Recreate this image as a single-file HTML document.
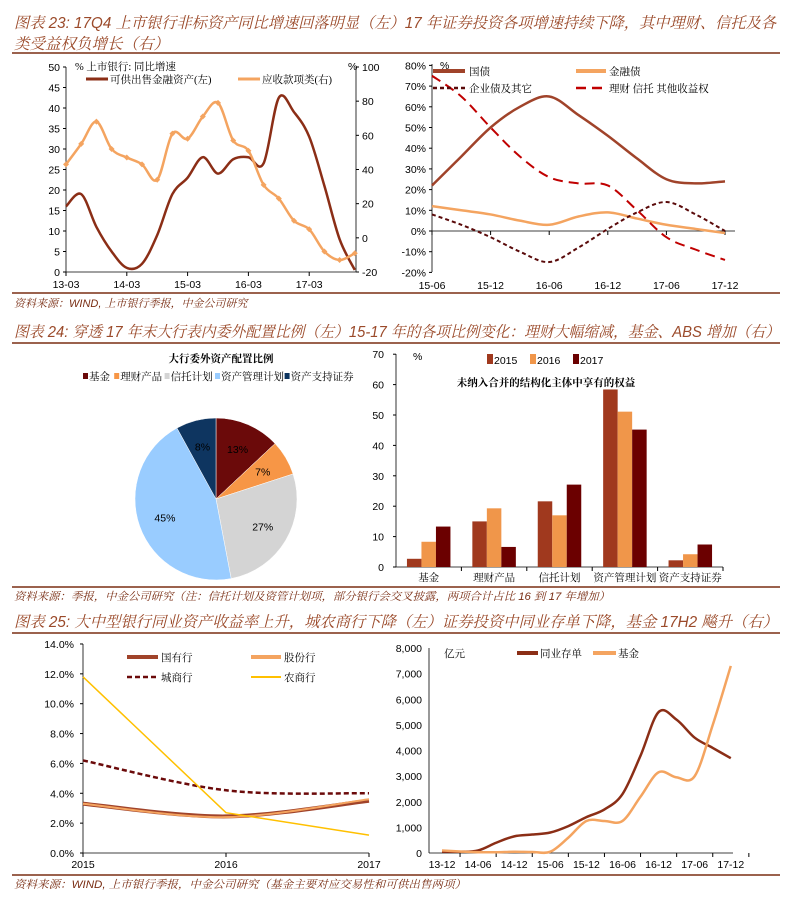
<!DOCTYPE html>
<html><head><meta charset="utf-8">
<style>
html,body{margin:0;padding:0;background:#fff;}
svg{display:block;font-family:"Liberation Sans","Noto Sans CJK SC",sans-serif;}
.ttl{font-size:15.5px;font-style:italic;fill:#9B4A2A;font-family:"Liberation Sans","Noto Serif CJK SC",serif;}
.src{font-size:11px;font-style:italic;fill:#7A2E14;font-family:"Liberation Sans","Noto Serif CJK SC",serif;}
.tk{font-size:10.5px;fill:#000;}
.lg{font-size:10.5px;fill:#000;font-family:"Liberation Serif","Noto Serif CJK SC",serif;}
</style></head>
<body>
<svg id="s" width="791" height="903" viewBox="0 0 791 903" xmlns="http://www.w3.org/2000/svg">
<text class="ttl" x="14" y="28" textLength="762" lengthAdjust="spacingAndGlyphs">图表 23: 17Q4 上市银行非标资产同比增速回落明显（左）17 年证券投资各项增速持续下降，其中理财、信托及各</text>
<text class="ttl" x="14" y="49">类受益权负增长（右）</text>
<line x1="12" y1="53" x2="780" y2="53" stroke="#7A2E14" stroke-width="1.5"/>
<line x1="12" y1="293" x2="780" y2="293" stroke="#7A2E14" stroke-width="1.5"/>
<text class="src" x="14" y="307">资料来源：WIND, 上市银行季报，中金公司研究</text>
<text class="ttl" x="14" y="337" textLength="766" lengthAdjust="spacingAndGlyphs">图表 24: 穿透 17 年末大行表内委外配置比例（左）15-17 年的各项比例变化：理财大幅缩减，基金、ABS 增加（右）</text>
<line x1="12" y1="343" x2="780" y2="343" stroke="#7A2E14" stroke-width="1.5"/>
<line x1="12" y1="587" x2="780" y2="587" stroke="#7A2E14" stroke-width="1.5"/>
<text class="src" x="14" y="600" textLength="596" lengthAdjust="spacingAndGlyphs">资料来源：季报，中金公司研究（注：信托计划及资管计划项，部分银行会交叉披露，两项合计占比 16 到 17 年增加）</text>
<text class="ttl" x="14" y="627" textLength="764" lengthAdjust="spacingAndGlyphs">图表 25: 大中型银行同业资产收益率上升，城农商行下降（左）证券投资中同业存单下降，基金 17H2 飚升（右）</text>
<line x1="12" y1="633" x2="780" y2="633" stroke="#7A2E14" stroke-width="1.5"/>
<line x1="12" y1="875" x2="780" y2="875" stroke="#7A2E14" stroke-width="1.5"/>
<text class="src" x="14" y="888" textLength="452" lengthAdjust="spacingAndGlyphs">资料来源：WIND, 上市银行季报，中金公司研究（基金主要对应交易性和可供出售两项）</text>
<g id="g"></g>
</svg>
<script>
// ---- Chart 23 data ----
const c1Labels = ['13-03','14-03','15-03','16-03','17-03'];
const c1Afs = [16,19,11,5,1,2,9,19,23,28,24,27.5,28,26.5,42.5,39,33,21,8,0.5];
const c1Recv = [43,55,68,52,47,43,34,61,58,71,79,57,51,31,23,10,5,-8,-13,-9];
const c1LeftTicks = [0,5,10,15,20,25,30,35,40,45,50];
const c1RightTicks = [-20,0,20,40,60,80,100];
// ---- Chart 2 data ----
const c2Labels = ['15-06','15-12','16-06','16-12','17-06','17-12'];
const c2Gov = [22,36,50,60,65,56,46,35,25,23,24];
const c2Fin = [12,10,8,5,3,7,9,6,3,1,-1];
const c2Corp = [8,3,-3,-10,-15,-8,1,9,14,8,0];
const c2Wm = [75,65,50,36,26,23,22,10,-3,-9,-14];
const c2Ticks = [-20,-10,0,10,20,30,40,50,60,70,80];
// ---- Pie data ----
const pieNames = ['基金','理财产品','信托计划','资产管理计划','资产支持证券'];
const pieVals = [13,7,27,45,8];
const pieColors = ['#6B0A0A','#F79646','#D4D4D4','#99CCFF','#0E3560'];
// ---- Bar chart data ----
const barCats = ['基金','理财产品','信托计划','资产管理计划','资产支持证券'];
const barYears = ['2015','2016','2017'];
const bar2015 = [2.7,15,21.6,58.4,2.2];
const bar2016 = [8.3,19.3,17,51.1,4.2];
const bar2017 = [13.3,6.6,27.1,45.2,7.4];
const barTicks = [0,10,20,30,40,50,60,70];
// ---- Chart 25 left ----
const c5Labels = ['2015','2016','2017'];
const c5Soe = [3.3,2.45,3.5];
const c5Jsb = [3.3,2.4,3.6];
const c5City = [6.2,4.2,4.0];
const c5Rural = [11.8,2.7,1.2];
const c5Ticks = [0,2,4,6,8,10,12,14];
// ---- Chart 25 right ----
const c6Labels = ['13-12','14-06','14-12','15-06','15-12','16-06','16-12','17-06','17-12'];
const c6Ncd = [50,50,100,400,650,720,800,1050,1400,1700,2300,3800,5500,5200,4500,4100,3700];
const c6Fund = [100,60,30,30,50,40,50,600,1250,1250,1250,2200,3150,2950,3000,5000,7300];
const c6Ticks = [0,1000,2000,3000,4000,5000,6000,7000,8000];

const NS='http://www.w3.org/2000/svg';
const root=document.getElementById('g');
function mk(tag,attrs,parent){const e=document.createElementNS(NS,tag);for(const k in attrs)e.setAttribute(k,attrs[k]);(parent||root).appendChild(e);return e;}
function txt(x,y,s,cls,anchor,parent,extra){const e=mk('text',Object.assign({x:x,y:y,class:cls,'text-anchor':anchor||'start'},extra||{}),parent);e.textContent=s;return e;}
function smooth(pts){let d='M'+pts[0][0]+','+pts[0][1];for(let i=0;i<pts.length-1;i++){const p0=pts[i-1]||pts[i],p1=pts[i],p2=pts[i+1],p3=pts[i+2]||p2;const t=6;d+=' C'+(p1[0]+(p2[0]-p0[0])/t)+','+(p1[1]+(p2[1]-p0[1])/t)+' '+(p2[0]-(p3[0]-p1[0])/t)+','+(p2[1]-(p3[1]-p1[1])/t)+' '+p2[0]+','+p2[1];}return d;}
function fmtK(v){return v.toLocaleString('en-US');}

// ===== Chart 23 =====
(function(){
const g=mk('g',{});


const x0=66, step=15.2, yL=v=>272-v*4.1, yR=v=>272-(v+20)*205/120;
mk('line',{x1:x0,y1:67,x2:x0,y2:272,stroke:'#000','stroke-width':0.8},g);
mk('line',{x1:356,y1:67,x2:356,y2:272,stroke:'#000','stroke-width':0.8},g);
mk('line',{x1:x0,y1:272,x2:356,y2:272,stroke:'#000','stroke-width':0.8},g);
c1LeftTicks.forEach(v=>{const t=txt(60,yL(v)+4,String(v),'tk','end',g);mk('line',{x1:x0-3,y1:yL(v),x2:x0,y2:yL(v),stroke:'#000'},g);});
c1RightTicks.forEach(v=>{const t=txt(362,yR(v)+4,String(v),'tk','start',g);mk('line',{x1:356,y1:yR(v),x2:359,y2:yR(v),stroke:'#000'},g);});
c1Labels.forEach((s,i)=>{const x=x0+i*4*step;const t=txt(x,288,s,'tk','middle',g);mk('line',{x1:x,y1:272,x2:x,y2:276,stroke:'#000'},g);});
const p1=mk('path',{d:smooth(c1Afs.map((v,i)=>[x0+i*step,yL(v)])),fill:'none',stroke:'#8B2E16','stroke-width':2.5},g);

const ptsR=c1Recv.map((v,i)=>[x0+i*step,yR(v)]);
const p2=mk('path',{d:smooth(ptsR),fill:'none',stroke:'#F4A460','stroke-width':2.5},g);

ptsR.forEach(p=>{const m=mk('path',{d:`M${p[0]},${p[1]-3}L${p[0]+3},${p[1]}L${p[0]},${p[1]+3}L${p[0]-3},${p[1]}Z`,fill:'#F4A460'},g);});
txt(75,70,'% 上市银行: 同比增速','lg','start',g,{'font-size':'9px'});
txt(348,70,'%','tk','start',g);
mk('line',{x1:86,y1:79,x2:108,y2:79,stroke:'#8B2E16','stroke-width':3},g);
txt(110,83,'可供出售金融资产(左)','lg','start',g,{'font-size':'9.5px'});
mk('line',{x1:238,y1:79,x2:260,y2:79,stroke:'#F4A460','stroke-width':3},g);
txt(262,83,'应收款项类(右)','lg','start',g,{'font-size':'9.5px'});
})();

// ===== Chart 2 =====
(function(){
const g=mk('g',{});


const x0=432, step=29.3, y=v=>231-v*2.07;
mk('line',{x1:x0,y1:64,x2:x0,y2:272,stroke:'#000','stroke-width':0.8},g);
mk('line',{x1:x0,y1:231,x2:735,y2:231,stroke:'#000','stroke-width':0.8},g);
c2Ticks.forEach(v=>{const t=txt(426,y(v)+4,v+'%','tk','end',g);mk('line',{x1:x0-3,y1:y(v),x2:x0,y2:y(v),stroke:'#000'},g);});
c2Labels.forEach((s,i)=>{const x=x0+i*2*step;const t=txt(x,289,s,'tk','middle',g);mk('line',{x1:x,y1:231,x2:x,y2:235,stroke:'#000'},g);});
const series=[[c2Gov,'#A0432A',2.5,'','gov-bond-line'],[c2Fin,'#F4A460',2.5,'','fin-bond-line'],[c2Corp,'#5A0A0A',2,'4,3','corp-bond-line'],[c2Wm,'#C00000',2,'10,6','wealth-trust-line']];
series.forEach(s=>{const p=mk('path',{d:smooth(s[0].map((v,i)=>[x0+i*step,y(v)])),fill:'none',stroke:s[1],'stroke-width':s[2],'stroke-dasharray':s[3]},g);});
txt(440,69,'%','tk','start',g,{'font-size':'9px'});
mk('line',{x1:433,y1:71,x2:465,y2:71,stroke:'#A0432A','stroke-width':4},g);txt(469,75,'国债','lg','start',g);
mk('line',{x1:576,y1:71,x2:606,y2:71,stroke:'#F4A460','stroke-width':4},g);txt(609,75,'金融债','lg','start',g);
mk('line',{x1:433,y1:88,x2:465,y2:88,stroke:'#5A0A0A','stroke-width':2.5,'stroke-dasharray':'4,3'},g);txt(469,92,'企业债及其它','lg','start',g);
mk('line',{x1:576,y1:88,x2:606,y2:88,stroke:'#C00000','stroke-width':2.5,'stroke-dasharray':'10,6'},g);txt(609,92,'理财 信托 其他收益权','lg','start',g);
})();

// ===== Pie =====
(function(){
const g=mk('g',{});


const cx=216, cy=499, r=81;
txt(221,362,'大行委外资产配置比例','lg','middle',g,{'font-size':'10px','font-weight':'bold'});
let lx=83;
pieNames.forEach((n,i)=>{mk('rect',{x:lx,y:373,width:5,height:6,fill:pieColors[i]},g);const t=txt(lx+6,380,n,'lg','start',g,{'font-size':'9.5px'});lx+=6+n.length*9.6+6;});
const tot=pieVals.reduce((a,b)=>a+b,0);let a=-Math.PI/2;
pieVals.forEach((v,i)=>{const a2=a+v/tot*2*Math.PI;const x1=cx+r*Math.cos(a),y1=cy+r*Math.sin(a),x2=cx+r*Math.cos(a2),y2=cy+r*Math.sin(a2);
const p=mk('path',{d:`M${cx},${cy}L${x1},${y1}A${r},${r} 0 ${(a2-a)>Math.PI?1:0} 1 ${x2},${y2}Z`,fill:pieColors[i],stroke:'#fff','stroke-width':0.5},g);

const m=(a+a2)/2;const t=txt(cx+r*0.67*Math.cos(m),cy+r*0.67*Math.sin(m)+4,v+'%','tk','middle',g,{'font-size':'10px',fill:'#333'});
a=a2;});
})();

// ===== Bar chart =====
(function(){
const g=mk('g',{});


const x0=396, x1=723, y=v=>567-v*3.04, cw=(x1-x0)/barCats.length, bw=14.5;
mk('line',{x1:x0,y1:354,x2:x0,y2:567,stroke:'#000','stroke-width':0.8},g);
mk('line',{x1:x0,y1:567,x2:x1,y2:567,stroke:'#000','stroke-width':0.8},g);
barTicks.forEach(v=>{const t=txt(384,y(v)+4,String(v),'tk','end',g);mk('line',{x1:x0-3,y1:y(v),x2:x0,y2:y(v),stroke:'#000'},g);});
const cols=['#A0391E','#F0964A','#6B0000'];const data=[bar2015,bar2016,bar2017];
barCats.forEach((c,i)=>{const cx=x0+cw*(i+0.5);
 mk('line',{x1:x0+cw*(i+1),y1:567,x2:x0+cw*(i+1),y2:571,stroke:'#000'},g);
 const t=txt(cx,581,c,'lg','middle',g,{'font-size':'9.5px'});
 data.forEach((d,j)=>{const b=mk('rect',{x:cx-1.5*bw+j*bw,y:y(d[i]),width:bw,height:d[i]*3.04,fill:cols[j]},g);});});
txt(413,360,'%','tk','start',g);
barYears.forEach((s,j)=>{const lx=487+j*43;mk('rect',{x:lx,y:354,width:6,height:10,fill:cols[j]},g);const t=txt(lx+7,364,s,'tk','start',g,{'font-size':'11.5px'});});
txt(546,386,'未纳入合并的结构化主体中享有的权益','lg','middle',g,{'font-size':'10.5px','font-weight':'bold'});
})();

// ===== Chart 25 left =====
(function(){
const g=mk('g',{});


const x0=83, step=143, y=v=>853-v*14.93;
mk('line',{x1:x0,y1:644,x2:x0,y2:853,stroke:'#000','stroke-width':0.8},g);
mk('line',{x1:x0,y1:853,x2:369,y2:853,stroke:'#000','stroke-width':0.8},g);
c5Ticks.forEach(v=>{const t=txt(74,y(v)+4,v.toFixed(1)+'%','tk','end',g,{'font-size':'10px'});mk('line',{x1:x0-3,y1:y(v),x2:x0,y2:y(v),stroke:'#000'},g);});
c5Labels.forEach((s,i)=>{const x=x0+i*step;const t=txt(x,868,s,'tk','middle',g,{'font-size':'10px'});mk('line',{x1:x,y1:853,x2:x,y2:857,stroke:'#000'},g);});
const pts=a=>a.map((v,i)=>[x0+i*step,y(v)]);
let p=mk('path',{d:smooth(pts(c5Soe)),fill:'none',stroke:'#A0432A','stroke-width':4},g);
p=mk('path',{d:smooth(pts(c5Jsb)),fill:'none',stroke:'#F4A460','stroke-width':2},g);
p=mk('path',{d:smooth(pts(c5City)),fill:'none',stroke:'#6B0A0A','stroke-width':2.5,'stroke-dasharray':'5,3'},g);
p=mk('polyline',{points:pts(c5Rural).map(q=>q.join(',')).join(' '),fill:'none',stroke:'#FFC000','stroke-width':1.5},g);
mk('line',{x1:127,y1:657,x2:158,y2:657,stroke:'#A0432A','stroke-width':4},g);txt(161,661,'国有行','lg','start',g);
mk('line',{x1:251,y1:657,x2:281,y2:657,stroke:'#F4A460','stroke-width':4},g);txt(284,661,'股份行','lg','start',g);
mk('line',{x1:127,y1:677,x2:158,y2:677,stroke:'#6B0A0A','stroke-width':2.5,'stroke-dasharray':'5,3'},g);txt(161,681,'城商行','lg','start',g);
mk('line',{x1:251,y1:677,x2:281,y2:677,stroke:'#FFC000','stroke-width':2},g);txt(284,681,'农商行','lg','start',g);
})();

// ===== Chart 25 right =====
(function(){
const g=mk('g',{});


const x0=442, step=18.05, y=v=>853-v*0.025625;
mk('line',{x1:429,y1:648,x2:429,y2:853,stroke:'#000','stroke-width':0.8},g);
mk('line',{x1:429,y1:853,x2:733,y2:853,stroke:'#000','stroke-width':0.8},g);
c6Ticks.forEach(v=>{const t=txt(422,y(v)+4,fmtK(v),'tk','end',g,{'font-size':'10px'});});
c6Labels.forEach((s,i)=>{const x=x0+i*2*step;const t=txt(x,868,s,'tk','middle',g,{'font-size':'10px'});mk('line',{x1:x+step,y1:853,x2:x+step,y2:857,stroke:'#000'},g);});
let p=mk('path',{d:smooth(c6Ncd.map((v,i)=>[x0+i*step,y(v)])),fill:'none',stroke:'#8B2E16','stroke-width':2.5},g);
p=mk('path',{d:smooth(c6Fund.map((v,i)=>[x0+i*step,y(v)])),fill:'none',stroke:'#F4A460','stroke-width':2.5},g);
txt(444,657,'亿元','lg','start',g,{'font-size':'10px'});
mk('line',{x1:517,y1:653,x2:538,y2:653,stroke:'#8B2E16','stroke-width':4},g);txt(540,657,'同业存单','lg','start',g);
mk('line',{x1:593,y1:653,x2:616,y2:653,stroke:'#F4A460','stroke-width':4},g);txt(618,657,'基金','lg','start',g);
})();
</script>
</body></html>
